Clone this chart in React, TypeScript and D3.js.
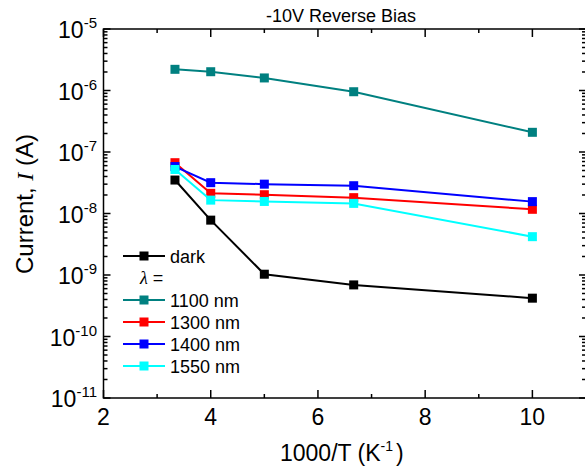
import React from "react";
import * as d3 from "d3";

const invT = [3.333, 4, 5, 6.667, 10];
const darkI = [3.5e-8, 7.8e-9, 1.03e-9, 6.9e-10, 4.2e-10];
const i1100 = [2.21e-6, 2.02e-6, 1.6e-6, 9.55e-7, 2.09e-7];
const i1300 = [6.7e-8, 2.13e-8, 2.02e-8, 1.81e-8, 1.17e-8];
const i1400 = [5.8e-8, 3.17e-8, 3.0e-8, 2.83e-8, 1.56e-8];
const i1550 = [5.2e-8, 1.65e-8, 1.57e-8, 1.46e-8, 4.2e-9];

const seriesNames = ["dark", "1100 nm", "1300 nm", "1400 nm", "1550 nm"];
const seriesValues = [darkI, i1100, i1300, i1400, i1550];
const seriesColors = ["#000000", "#008080", "#ff0000", "#0000ff", "#00ffff"];

const xMajorTicks = [2, 4, 6, 8, 10];
const xMinorTicks = [3, 5, 7, 9];
const yExponents = [-5, -6, -7, -8, -9, -10, -11];

const FONT = "'Liberation Sans', Arial, sans-serif";
const SERIF = "'Liberation Serif', 'Times New Roman', serif";

export default function App() {
  const W = 585, H = 470;
  const left = 103.5, right = 586, top = 29, bottom = 398;
  const x = d3.scaleLinear().domain([2, 11]).range([left, right]);
  const y = d3.scaleLog().domain([1e-11, 1e-5]).range([bottom, top]);
  const line = d3.line<[number, number]>().x(d => x(d[0])).y(d => y(d[1]));

  const yMinor: number[] = [];
  for (let e = -11; e < -5; e++) {
    for (let m = 2; m <= 9; m++) yMinor.push(m * Math.pow(10, e));
  }

  const rowY = [256, 300, 322, 344, 366];
  const legendRows = seriesNames.map((label, i) => ({ label, color: seriesColors[i], cy: rowY[i] }));
  const ms = 9;

  return (
    <div style={{ position: "absolute", left: 0, top: 0 }}>
      <svg width={W} height={H} style={{ display: "block", background: "#fff" }} fontFamily={FONT}>
        <rect width={W} height={H} fill="#fff" />
        {/* title */}
        <text x={341} y={21.5} fontSize={18} textAnchor="middle" fill="#000">-10V Reverse Bias</text>

        {/* series */}
        {seriesValues.map((vals, si) => {
          const pts = invT.map((t, i) => [t, vals[i]] as [number, number]);
          return (
            <g key={si}>
              <path d={line(pts) || ""} fill="none" stroke={seriesColors[si]} strokeWidth={2} />
              {pts.map((p, i) => (
                <rect key={i} x={x(p[0]) - ms / 2} y={y(p[1]) - ms / 2} width={ms} height={ms} fill={seriesColors[si]} />
              ))}
            </g>
          );
        })}

        {/* frame */}
        <rect x={left} y={top} width={right - left} height={bottom - top} fill="none" stroke="#000" strokeWidth={1.5} />

        {/* x ticks */}
        {xMajorTicks.map(t => (
          <g key={"xm" + t}>
            <line x1={x(t)} x2={x(t)} y1={bottom} y2={bottom - 8} stroke="#000" strokeWidth={1.5} />
            <line x1={x(t)} x2={x(t)} y1={top} y2={top + 8} stroke="#000" strokeWidth={1.5} />
            <text x={x(t)} y={425} fontSize={23} textAnchor="middle" fill="#000">{t}</text>
          </g>
        ))}
        {xMinorTicks.map(t => (
          <g key={"xn" + t}>
            <line x1={x(t)} x2={x(t)} y1={bottom} y2={bottom - 4} stroke="#000" strokeWidth={1.5} />
            <line x1={x(t)} x2={x(t)} y1={top} y2={top + 4} stroke="#000" strokeWidth={1.5} />
          </g>
        ))}

        {/* y ticks */}
        {yExponents.map(e => {
          const yy = y(Math.pow(10, e));
          return (
            <g key={"ym" + e}>
              <line x1={left} x2={left + 7} y1={yy} y2={yy} stroke="#000" strokeWidth={1.5} />
              <line x1={right} x2={right - 7} y1={yy} y2={yy} stroke="#000" strokeWidth={1.5} />
              <text x={97} y={yy + 9} fontSize={23} textAnchor="end" fill="#000">
                10<tspan fontSize={15} dy={-10}>{e}</tspan>
              </text>
            </g>
          );
        })}
        {yMinor.map((v, i) => (
          <g key={"yn" + i}>
            <line x1={left} x2={left + 4} y1={y(v)} y2={y(v)} stroke="#000" strokeWidth={1.5} />
            <line x1={right} x2={right - 4} y1={y(v)} y2={y(v)} stroke="#000" strokeWidth={1.5} />
          </g>
        ))}

        {/* axis labels */}
        <text x={280} y={461} fontSize={23} fill="#000">
          1000/T (K<tspan fontSize={14} dy={-10}>-1</tspan><tspan dx={3} dy={10}>)</tspan>
        </text>
        <text transform="translate(33,204) rotate(-90)" fontSize={24} textAnchor="middle" fill="#000">
          Current, <tspan fontFamily={SERIF} fontStyle="italic">I</tspan> (A)
        </text>

        {/* legend */}
        {legendRows.map((r, i) => (
          <g key={"lg" + i}>
            <line x1={123} x2={165} y1={r.cy} y2={r.cy} stroke={r.color} strokeWidth={2} />
            <rect x={144 - ms / 2} y={r.cy - ms / 2} width={ms} height={ms} fill={r.color} />
            <text x={170} y={r.cy + 6.5} fontSize={18} fill="#000">{r.label}</text>
          </g>
        ))}
        <text x={140} y={283.5} fontSize={18} fill="#000">
          <tspan fontFamily={SERIF} fontStyle="italic">λ</tspan> =
        </text>
      </svg>
    </div>
  );
}
